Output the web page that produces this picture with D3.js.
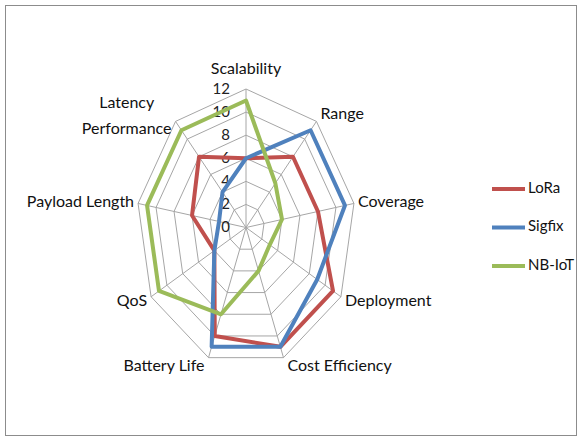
<!DOCTYPE html>
<html>
<head>
<meta charset="utf-8">
<script src="https://cdn.jsdelivr.net/npm/d3@7"></script>
<style>
  body { margin: 0; background: #fff; }
  svg { display: block; font-family: Lato, "Open Sans", sans-serif; }
</style>
</head>
<body>
<svg width="582" height="441"></svg>
<script>
// axes go clockwise from the top
const categories = ['Scalability', 'Range', 'Coverage', 'Deployment', 'Cost Efficiency',
  'Battery Life', 'QoS', 'Payload Length', 'Latency Performance'];
const seriesNames = ['LoRa', 'Sigfix', 'NB-IoT'];
const lora = [6, 8, 8, 11, 11, 10, 4, 6, 8];
const sigfix = [6, 11, 11, 9, 11, 11, 4, 3, 4];
const nbiot = [11, 5, 4, 3, 4, 8, 11, 11, 11];
const tickValues = [0, 2, 4, 6, 8, 10, 12];
const colors = ['#C0504D', '#4F81BD', '#9BBB59'];

const svg = d3.select('svg');
const cx = 246, cy = 227.5;

// plot area is wider in y than in x
const rx = d3.scaleLinear().domain([0, 12]).range([0, 109.6]);
const ry = d3.scaleLinear().domain([0, 12]).range([0, 138.5]);
const angle = d3.scaleLinear().domain([0, categories.length]).range([0, 2 * Math.PI]);

const px = (i, v) => cx + rx(v) * Math.sin(angle(i));
const py = (i, v) => cy - ry(v) * Math.cos(angle(i));

// frame
svg.append('rect')
  .attr('x', 5.5).attr('y', 5.5)
  .attr('width', 571).attr('height', 430)
  .attr('fill', 'none')
  .attr('stroke', '#8c8c8c');

const idx = d3.range(categories.length);

// rings
svg.append('g')
  .selectAll('path')
  .data(tickValues.filter((t) => t > 0))
  .join('path')
  .attr('d', (t) => d3.line()(idx.map((i) => [px(i, t), py(i, t)])) + 'Z')
  .attr('fill', 'none')
  .attr('stroke', '#a6a6a6')
  .attr('stroke-width', 1);

// spokes
svg.append('g')
  .selectAll('line')
  .data(idx)
  .join('line')
  .attr('x1', cx).attr('y1', cy)
  .attr('x2', (i) => px(i, 12))
  .attr('y2', (i) => py(i, 12))
  .attr('stroke', '#a6a6a6')
  .attr('stroke-width', 1);

// tick labels
svg.append('g')
  .selectAll('text')
  .data(tickValues)
  .join('text')
  .attr('x', cx - 16)
  .attr('y', (t) => py(0, t) + 1)
  .attr('text-anchor', 'end')
  .attr('dominant-baseline', 'middle')
  .attr('font-size', 15)
  .attr('fill', '#222')
  .text((t) => t);

// category labels
const lab = svg.append('g').attr('font-size', 16).attr('fill', '#111');
idx.forEach((i) => {
  const s = Math.sin(angle(i)), c = Math.cos(angle(i));
  const x0 = px(i, 12), y0 = py(i, 12);
  const name = categories[i];
  if (i === 0) {
    lab.append('text').attr('x', x0).attr('y', y0 - 15)
      .attr('text-anchor', 'middle').text(name);
    return;
  }
  const anchor = s > 0 ? 'start' : 'end';
  const dx = s > 0 ? 4 : -4;
  let dy = 0;
  if (c < -0.9) dy = 9;
  else if (c < -0.4) dy = 5;
  else if (c > 0.5) dy = -6;
  if (name === 'Latency Performance') {
    const lines = ['Latency', 'Performance'];
    const t = lab.append('text').attr('text-anchor', 'middle').attr('dominant-baseline', 'middle');
    lines.forEach((l, k) => {
      t.append('tspan').attr('x', 0).attr('y', (k - 0.5) * 26).text(l);
    });
    const w = d3.max(t.selectAll('tspan').nodes(), (n) => n.getComputedTextLength());
    t.attr('transform', `translate(${x0 + dx - w / 2},${y0 - 4})`);
    return;
  }
  lab.append('text')
    .attr('x', x0 + dx)
    .attr('y', y0 + dy)
    .attr('text-anchor', anchor)
    .attr('dominant-baseline', 'middle')
    .text(name);
});

// series
const series = [lora, sigfix, nbiot];
svg.append('g')
  .selectAll('path')
  .data(series)
  .join('path')
  .attr('d', (vals) => d3.line()(vals.map((v, i) => [px(i, v), py(i, v)])) + 'Z')
  .attr('fill', 'none')
  .attr('stroke', (d, k) => colors[k])
  .attr('stroke-width', 4)
  .attr('stroke-linejoin', 'round');

// legend
const leg = svg.append('g')
  .selectAll('g')
  .data(seriesNames)
  .join('g')
  .attr('transform', (d, k) => `translate(492,${189 + k * 38.5})`);
leg.append('line')
  .attr('x1', 0).attr('x2', 33)
  .attr('stroke', (d, k) => colors[k])
  .attr('stroke-width', 4);
leg.append('text')
  .attr('x', 36)
  .attr('dominant-baseline', 'middle')
  .attr('font-size', 15)
  .attr('fill', '#111')
  .text((d) => d);
</script>
</body>
</html>
